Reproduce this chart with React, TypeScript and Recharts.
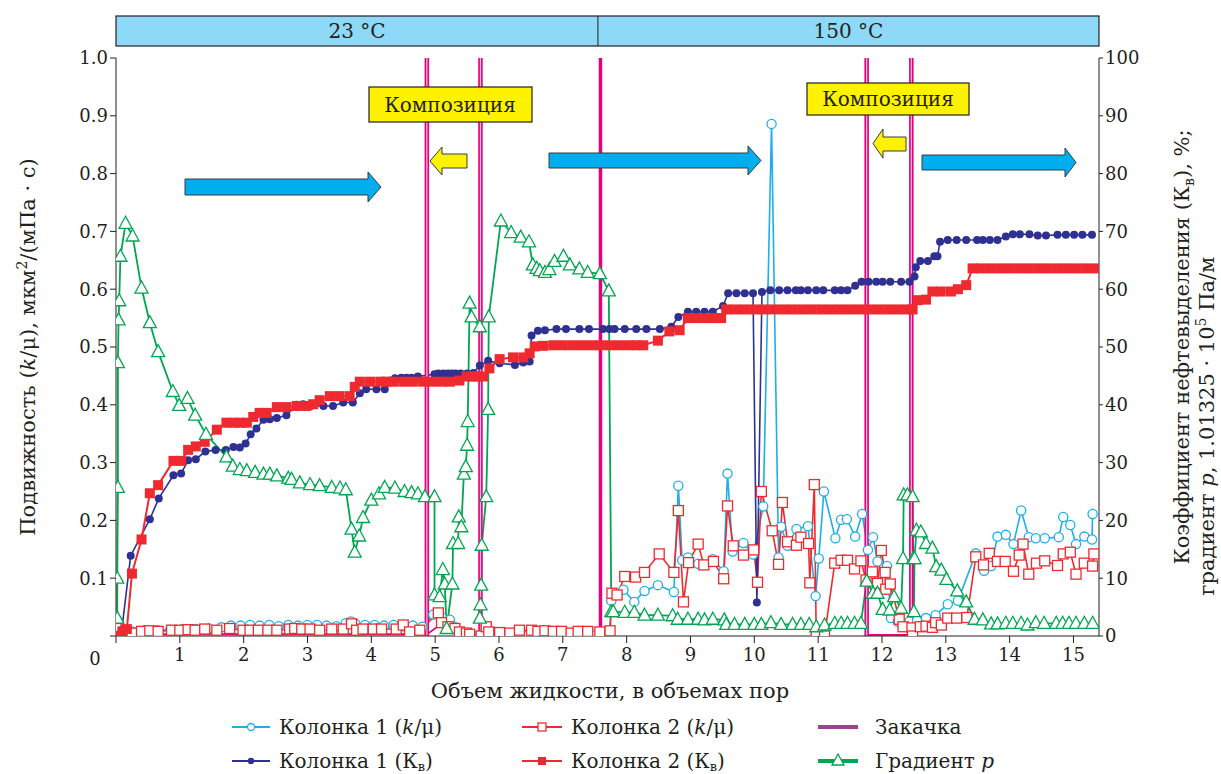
import React from "react";
import { LineChart, Line, XAxis, YAxis, ReferenceLine } from "recharts";

// Колонка 1 (k/μ), left axis
const mob1: [number, number][] = [
  [0.05, 0.01], [0.25, 0.008], [0.45, 0.01], [0.65, 0.01], [0.85, 0.011], [1.05, 0.012], [1.25, 0.012],
  [1.45, 0.013], [1.65, 0.015], [1.8, 0.018], [1.95, 0.018], [2.1, 0.019], [2.25, 0.018], [2.4, 0.019],
  [2.55, 0.017], [2.7, 0.019], [2.85, 0.018], [3.0, 0.019], [3.15, 0.019], [3.3, 0.018], [3.45, 0.017],
  [3.6, 0.022], [3.68, 0.025], [3.75, 0.021], [3.9, 0.019], [4.05, 0.019], [4.2, 0.018], [4.35, 0.019],
  [4.5, 0.017], [4.65, 0.018], [4.8, 0.016], [4.97, 0.037], [5.1, 0.033], [5.23, 0.028], [5.3, 0.016],
  [5.42, 0.006], [5.55, 0.001], [5.7, 0.001], [5.85, 0.001], [6.0, 0.0], [6.15, 0.001], [6.3, 0.001],
  [6.45, 0.001], [6.6, 0.0], [6.75, 0.001], [6.9, 0.001], [7.05, 0.0], [7.2, 0.001], [7.35, 0.001],
  [7.5, 0.001], [7.65, 0.001], [7.73, 0.0], [7.76, 0.061], [7.95, 0.08], [8.12, 0.059], [8.28, 0.078],
  [8.49, 0.088], [8.74, 0.076], [8.81, 0.26], [8.87, 0.131], [8.96, 0.136], [9.12, 0.125], [9.35, 0.133],
  [9.52, 0.112], [9.58, 0.281], [9.66, 0.146], [9.83, 0.161], [9.98, 0.141], [10.14, 0.224], [10.27, 0.886],
  [10.38, 0.136], [10.42, 0.189], [10.52, 0.156], [10.66, 0.185], [10.84, 0.19], [10.96, 0.069],
  [11.01, 0.134], [11.09, 0.25], [11.27, 0.169], [11.36, 0.201], [11.45, 0.202], [11.58, 0.172],
  [11.69, 0.211], [11.78, 0.149], [11.86, 0.171], [11.93, 0.129], [12.08, 0.121], [12.14, 0.031],
  [12.25, 0.025], [12.35, 0.02], [12.43, 0.025], [12.55, 0.027], [12.69, 0.031], [12.84, 0.036],
  [13.03, 0.055], [13.19, 0.061], [13.47, 0.143], [13.6, 0.113], [13.71, 0.121], [13.81, 0.172],
  [13.94, 0.175], [14.06, 0.159], [14.18, 0.217], [14.3, 0.171], [14.41, 0.169], [14.55, 0.169],
  [14.77, 0.171], [14.84, 0.206], [14.95, 0.192], [15.04, 0.159], [15.17, 0.172], [15.29, 0.167],
  [15.3, 0.211],
];

// Колонка 2 (k/μ), left axis
const mob2: [number, number][] = [
  [0.0, 0.013], [0.25, 0.005], [0.4, 0.008], [0.53, 0.009], [0.66, 0.008], [0.87, 0.01], [1.0, 0.01],
  [1.13, 0.011], [1.24, 0.01], [1.39, 0.012], [1.58, 0.01], [1.78, 0.013], [1.99, 0.01], [2.1, 0.01],
  [2.23, 0.01], [2.38, 0.01], [2.52, 0.01], [2.72, 0.012], [2.8, 0.013], [2.91, 0.012], [3.04, 0.012],
  [3.19, 0.01], [3.38, 0.012], [3.56, 0.012], [3.69, 0.021], [3.77, 0.01], [3.87, 0.012], [4.03, 0.012],
  [4.16, 0.012], [4.39, 0.012], [4.5, 0.019], [4.6, 0.007], [4.76, 0.01], [5.05, 0.04], [5.1, 0.023],
  [5.2, 0.016], [5.31, 0.013], [5.38, 0.007], [5.49, 0.005], [5.54, 0.003], [5.72, 0.0], [5.8, 0.016],
  [5.84, 0.007], [6.01, 0.006], [6.17, 0.005], [6.32, 0.01], [6.51, 0.01], [6.61, 0.008], [6.72, 0.009],
  [6.85, 0.008], [6.98, 0.008], [7.13, 0.005], [7.24, 0.008], [7.39, 0.008], [7.58, 0.007], [7.74, 0.009],
  [7.77, 0.074], [7.85, 0.071], [7.97, 0.103], [8.14, 0.102], [8.28, 0.11], [8.51, 0.142], [8.74, 0.11],
  [8.81, 0.217], [8.89, 0.059], [8.97, 0.127], [9.12, 0.159], [9.21, 0.123], [9.36, 0.129], [9.52, 0.099],
  [9.58, 0.225], [9.67, 0.156], [9.83, 0.14], [9.99, 0.149], [10.05, 0.093], [10.11, 0.25], [10.28, 0.182],
  [10.38, 0.124], [10.44, 0.231], [10.52, 0.163], [10.66, 0.157], [10.73, 0.171], [10.85, 0.16],
  [10.87, 0.092], [10.94, 0.262], [10.97, 0.0], [11.1, 0.0], [11.26, 0.126], [11.36, 0.131], [11.46, 0.131],
  [11.57, 0.116], [11.67, 0.13], [11.75, 0.097], [11.85, 0.111], [11.93, 0.091], [11.99, 0.148],
  [12.05, 0.11], [12.06, 0.081], [12.13, 0.09], [12.27, 0.029], [12.33, 0.016], [12.47, 0.014],
  [12.48, 0.0], [12.6, 0.016], [12.69, 0.017], [12.79, 0.015], [12.84, 0.023], [12.93, 0.019],
  [13.03, 0.031], [13.17, 0.031], [13.33, 0.032], [13.47, 0.137], [13.59, 0.123], [13.68, 0.143],
  [13.81, 0.129], [13.93, 0.129], [14.06, 0.112], [14.15, 0.14], [14.21, 0.159], [14.3, 0.107],
  [14.42, 0.126], [14.55, 0.13], [14.75, 0.122], [14.84, 0.142], [14.95, 0.145], [15.04, 0.107],
  [15.17, 0.126], [15.3, 0.121], [15.32, 0.142],
];

// Колонка 1 (Кв), %, right axis
const kv1: [number, number][] = [
  [0.0, 0], [0.09, 1.0], [0.23, 13.9], [0.53, 20.2], [0.67, 23.8], [0.9, 27.8], [1.02, 28.1], [1.13, 30.4],
  [1.25, 30.6], [1.4, 31.9], [1.56, 32.2], [1.72, 32.2], [1.84, 32.7], [1.94, 32.6], [2.03, 33.3],
  [2.11, 34.9], [2.2, 35.9], [2.31, 37.4], [2.41, 37.5], [2.52, 37.7], [2.67, 38.2], [2.83, 40.0],
  [2.93, 40.1], [3.05, 39.8], [3.25, 39.8], [3.4, 39.8], [3.56, 40.4], [3.71, 40.4], [3.82, 42.0],
  [3.92, 42.7], [4.08, 42.7], [4.21, 42.7], [4.37, 44.6], [4.47, 44.7], [4.55, 44.7], [4.63, 44.7],
  [4.73, 44.9], [4.99, 45.3], [5.05, 45.4], [5.13, 45.4], [5.2, 45.4], [5.26, 45.4], [5.32, 45.4],
  [5.4, 45.4], [5.5, 45.4], [5.6, 45.5], [5.7, 46.8], [5.83, 47.6], [6.01, 47.2], [6.25, 46.9],
  [6.38, 47.3], [6.48, 47.5], [6.51, 52.0], [6.61, 52.8], [6.72, 52.9], [6.9, 53.1], [7.05, 53.1],
  [7.26, 53.1], [7.41, 53.1], [7.63, 53.1], [7.73, 53.1], [7.81, 53.1], [7.97, 53.1], [8.15, 53.1],
  [8.31, 53.1], [8.52, 53.1], [8.7, 53.5], [8.81, 55.2], [8.96, 56.1], [9.09, 56.1], [9.22, 56.1],
  [9.35, 56.1], [9.51, 57.1], [9.59, 59.3], [9.72, 59.3], [9.85, 59.3], [9.98, 59.3], [10.04, 5.8],
  [10.12, 59.5], [10.25, 59.8], [10.39, 59.8], [10.52, 59.8], [10.65, 59.8], [10.73, 59.8], [10.84, 59.8],
  [10.97, 59.8], [11.08, 59.8], [11.26, 59.8], [11.36, 59.8], [11.46, 59.8], [11.58, 60.6], [11.68, 61.3],
  [11.79, 61.3], [11.91, 61.3], [12.01, 61.3], [12.13, 61.3], [12.3, 61.3], [12.43, 61.3], [12.51, 62.2],
  [12.53, 63.8], [12.6, 64.9], [12.72, 64.9], [12.82, 65.7], [12.87, 65.7], [12.91, 68.2], [13.03, 68.5],
  [13.17, 68.5], [13.32, 68.5], [13.49, 68.5], [13.58, 68.5], [13.69, 68.5], [13.81, 68.5], [13.94, 69.1],
  [14.05, 69.5], [14.16, 69.5], [14.31, 69.5], [14.44, 69.3], [14.57, 69.3], [14.75, 69.4], [14.88, 69.4],
  [15.01, 69.4], [15.14, 69.4], [15.29, 69.4],
];

// Колонка 2 (Кв), %, right axis
const kv2: [number, number][] = [
  [0.0, 0], [0.1, 0.8], [0.17, 1.2], [0.25, 10.8], [0.4, 16.7], [0.53, 24.7], [0.66, 26.1], [0.9, 30.3],
  [1.02, 30.3], [1.13, 32.2], [1.25, 32.8], [1.39, 33.6], [1.58, 35.7], [1.73, 36.9], [1.85, 36.9],
  [1.95, 36.9], [2.05, 36.9], [2.15, 37.9], [2.25, 38.6], [2.36, 38.6], [2.52, 39.6], [2.67, 39.6],
  [2.83, 39.8], [2.98, 39.8], [3.09, 40.1], [3.19, 40.8], [3.35, 41.5], [3.5, 41.5], [3.66, 41.5],
  [3.74, 43.1], [3.82, 44.0], [3.98, 44.0], [4.14, 44.0], [4.24, 44.0], [4.34, 44.0], [4.5, 44.0],
  [4.65, 44.0], [4.81, 44.0], [4.95, 44.0], [5.1, 44.0], [5.23, 44.0], [5.38, 44.2], [5.49, 44.9],
  [5.59, 44.9], [5.65, 44.9], [5.75, 44.9], [5.85, 46.3], [6.01, 47.9], [6.22, 48.2], [6.38, 48.2],
  [6.48, 48.9], [6.56, 50.1], [6.69, 50.2], [6.85, 50.3], [7.0, 50.3], [7.15, 50.3], [7.3, 50.3],
  [7.45, 50.3], [7.58, 50.3], [7.73, 50.3], [7.88, 50.3], [8.03, 50.3], [8.15, 50.3], [8.26, 50.3],
  [8.49, 51.1], [8.67, 52.7], [8.83, 52.9], [8.96, 55.0], [9.1, 55.0], [9.25, 55.0], [9.38, 55.0],
  [9.48, 55.0], [9.56, 56.5], [9.7, 56.5], [9.85, 56.5], [10.0, 56.5], [10.15, 56.5], [10.3, 56.5],
  [10.45, 56.5], [10.6, 56.5], [10.75, 56.5], [10.9, 56.5], [11.05, 56.5], [11.2, 56.5], [11.35, 56.5],
  [11.5, 56.5], [11.65, 56.5], [11.8, 56.5], [11.95, 56.5], [12.1, 56.5], [12.25, 56.5], [12.4, 56.5],
  [12.48, 56.5], [12.56, 58.1], [12.69, 58.2], [12.79, 59.6], [12.92, 59.6], [13.08, 59.6], [13.19, 60.0],
  [13.32, 60.7], [13.42, 63.6], [13.55, 63.6], [13.7, 63.6], [13.85, 63.6], [14.0, 63.6], [14.15, 63.6],
  [14.3, 63.6], [14.45, 63.6], [14.6, 63.6], [14.75, 63.6], [14.9, 63.6], [15.05, 63.6], [15.2, 63.6],
  [15.35, 63.6],
];

// Градиент p, right axis (1.01325·10^5 Па/м)
const grad: [number, number][] = [
  [0.02, 3.1], [0.02, 10.0], [0.03, 25.7], [0.03, 47.3], [0.04, 54.7], [0.05, 58.0], [0.07, 65.7],
  [0.15, 71.4], [0.26, 69.2], [0.4, 60.2], [0.53, 54.2], [0.66, 49.2], [0.89, 42.3], [0.99, 39.9],
  [1.12, 41.1], [1.24, 38.2], [1.41, 34.9], [1.73, 31.0], [1.83, 29.4], [1.94, 28.8], [2.05, 28.6],
  [2.18, 28.3], [2.31, 28.0], [2.41, 28.0], [2.52, 27.7], [2.7, 27.3], [2.75, 27.1], [2.88, 26.5],
  [3.04, 26.2], [3.19, 26.0], [3.38, 25.7], [3.51, 25.6], [3.6, 25.3], [3.69, 18.5], [3.74, 14.5],
  [3.81, 17.3], [3.87, 20.5], [4.0, 23.5], [4.12, 24.6], [4.21, 25.7], [4.37, 25.6], [4.52, 25.0],
  [4.63, 24.8], [4.73, 24.6], [4.84, 24.1], [4.99, 24.1], [4.99, 7.1], [5.07, 6.8], [5.12, 11.5],
  [5.15, 9.0], [5.18, 1.3], [5.27, 9.0], [5.28, 16.0], [5.36, 16.0], [5.37, 20.6], [5.41, 18.9],
  [5.45, 28.0], [5.48, 29.3], [5.5, 33.0], [5.51, 37.1], [5.54, 57.6], [5.57, 55.2], [5.7, 53.5],
  [5.7, 3.1], [5.71, 5.4], [5.72, 8.8], [5.73, 15.7], [5.8, 24.1], [5.83, 39.2], [5.84, 55.2],
  [6.03, 71.8], [6.19, 69.8], [6.34, 69.0], [6.47, 68.2], [6.53, 64.2], [6.59, 63.6], [6.64, 63.2],
  [6.72, 62.9], [6.79, 63.4], [6.87, 64.8], [7.01, 65.7], [7.11, 64.2], [7.26, 63.5], [7.39, 62.9],
  [7.58, 62.7], [7.72, 59.7], [7.76, 4.2], [7.79, 4.2], [7.97, 4.1], [8.12, 4.1], [8.28, 3.6],
  [8.49, 3.6], [8.72, 3.5], [8.8, 2.9], [8.96, 2.9], [9.12, 2.9], [9.22, 2.8], [9.35, 2.9], [9.53, 2.8],
  [9.56, 2.0], [9.69, 2.0], [9.85, 2.0], [10.0, 2.0], [10.11, 2.0], [10.26, 2.3], [10.42, 2.0],
  [10.6, 2.0], [10.73, 2.0], [10.86, 2.0], [10.97, 1.6], [11.1, 1.9], [11.26, 2.2], [11.36, 2.2],
  [11.46, 2.2], [11.57, 2.2], [11.67, 2.2], [11.76, 9.5], [11.86, 7.4], [11.93, 7.4], [12.01, 4.6],
  [12.12, 4.5], [12.19, 6.8], [12.3, 4.8], [12.33, 13.4], [12.34, 24.4], [12.4, 24.4], [12.48, 24.1],
  [12.49, 13.4], [12.5, 4.2], [12.51, 13.4], [12.54, 18.3], [12.61, 18.0], [12.69, 16.0], [12.79, 15.2],
  [12.85, 12.0], [12.93, 11.4], [13.01, 9.8], [13.18, 7.8], [13.32, 5.9], [13.45, 2.9], [13.58, 2.8],
  [13.71, 2.1], [13.81, 2.1], [13.94, 2.2], [14.05, 2.2], [14.18, 2.2], [14.28, 1.9], [14.41, 2.3],
  [14.54, 2.2], [14.73, 2.2], [14.83, 2.2], [14.93, 2.2], [15.04, 2.2], [15.17, 2.2], [15.3, 2.2],
];

// Закачка: baseline pieces (null = gap) and injection moments
const injBase: [number, number | null][] = [
  [0.02, 0.003], [4.86, 0.003], [4.88, null], [4.9, 0.005], [5.07, 0.019], [5.59, 0.001], [5.69, 0.001],
  [5.71, null], [5.73, 0.004], [6.5, 0.003], [7.58, 0.001], [7.6, null], [11.77, 0.002], [12.45, 0.002],
];
const injDouble = [4.87, 5.71, 11.76, 12.46];
const injSolid = [7.59];

const xTicks = [0, 1, 2, 3, 4, 5, 6, 7, 8, 9, 10, 11, 12, 13, 14, 15];
const leftTicks = [0, 0.1, 0.2, 0.3, 0.4, 0.5, 0.6, 0.7, 0.8, 0.9, 1.0];
const rightTicks = [0, 10, 20, 30, 40, 50, 60, 70, 80, 90, 100];

const FONT = "'DejaVu Serif', serif";
const INK = "#231f20";
const C_BLUE = "#1eaee9";
const C_RED = "#ee2a30";
const C_NAVY = "#2e3192";
const C_GREEN = "#00a651";
const C_MAG = "#e5007d";

const rows = (pts: [number, number | null][]) => pts.map(([x, y]) => ({ x, y }));

const openCircle = (p: any) =>
  p.cy == null ? <g key={`c${p.index}`} /> : (
    <circle key={`c${p.index}`} cx={p.cx} cy={p.cy} r={4.6} fill="#fff" stroke={C_BLUE} strokeWidth={1.3} />
  );
const openSquare = (p: any) =>
  p.cy == null ? <g key={`s${p.index}`} /> : (
    <rect key={`s${p.index}`} x={p.cx - 5} y={p.cy - 5} width={10} height={10} fill="#fff" stroke={C_RED} strokeWidth={1.3} />
  );
const navyDot = (p: any) =>
  p.cy == null ? <g key={`n${p.index}`} /> : <circle key={`n${p.index}`} cx={p.cx} cy={p.cy} r={4} fill={C_NAVY} />;
const redSquare = (p: any) =>
  p.cy == null ? <g key={`r${p.index}`} /> : (
    <rect key={`r${p.index}`} x={p.cx - 5} y={p.cy - 5} width={10} height={10} fill={C_RED} />
  );
const triangle = (p: any) =>
  p.cy == null ? <g key={`t${p.index}`} /> : (
    <path
      key={`t${p.index}`}
      d={`M${p.cx},${p.cy - 7} L${p.cx + 6.5},${p.cy + 5} L${p.cx - 6.5},${p.cy + 5} Z`}
      fill="#fff"
      stroke={C_GREEN}
      strokeWidth={1.3}
    />
  );

const XTick = (p: any) => {
  const v = p.payload.value;
  return (
    <text x={v === 0 ? p.x - 21 : p.x} y={v === 0 ? p.y + 20 : p.y + 16} textAnchor="middle" fill={INK} fontSize={18} fontFamily={FONT}>
      {v}
    </text>
  );
};

// plot box in page pixels, used only for the annotations overlay
const PL = 116;
const PR = 1099;
const X_MAX = 15.4;
const px = (x: number) => PL + (x * (PR - PL)) / X_MAX;

function rightArrow(x0: number, xb: number, xt: number, y0: number, y1: number, h0: number, h1: number) {
  const ym = (h0 + h1) / 2;
  return `M${x0},${y0} L${xb},${y0} L${xb},${h0} L${xt},${ym} L${xb},${h1} L${xb},${y1} L${x0},${y1} Z`;
}
function leftArrow(xt: number, xb: number, x1: number, y0: number, y1: number, h0: number, h1: number) {
  const ym = (h0 + h1) / 2;
  return `M${x1},${y0} L${xb},${y0} L${xb},${h0} L${xt},${ym} L${xb},${h1} L${xb},${y1} L${x1},${y1} Z`;
}

function Annotations() {
  const t = { fontFamily: FONT, fill: INK } as const;
  const split = px(7.55);
  const r1 = 727;
  const r2 = 761;
  return (
    <svg width={1221} height={774} style={{ position: "absolute", left: 0, top: 0, pointerEvents: "none" }}>
      {/* temperature header */}
      <rect x={PL} y={16} width={PR - PL} height={30} fill="#8ed8f8" stroke={INK} strokeWidth={1.2} />
      <line x1={split} y1={16} x2={split} y2={46} stroke={INK} strokeWidth={1} />
      <text x={(PL + split) / 2} y={38} textAnchor="middle" fontSize={20} {...t}>23 °C</text>
      <text x={(split + PR) / 2} y={38} textAnchor="middle" fontSize={20} {...t}>150 °C</text>

      {/* flow direction arrows */}
      <path d={rightArrow(185, 368, 381, 179, 195, 172, 202)} fill="#00aeef" stroke="#3a3a3a" strokeWidth={1} />
      <path d={rightArrow(549, 748, 761, 153, 168, 146, 175)} fill="#00aeef" stroke="#3a3a3a" strokeWidth={1} />
      <path d={rightArrow(922, 1065, 1076, 155, 170, 148, 177)} fill="#00aeef" stroke="#3a3a3a" strokeWidth={1} />
      <path d={leftArrow(430, 442, 467, 154, 168, 147, 175)} fill="#fff200" stroke="#3a3a3a" strokeWidth={1} />
      <path d={leftArrow(873, 883, 906, 137, 151, 129, 158)} fill="#fff200" stroke="#3a3a3a" strokeWidth={1} />

      {/* composition boxes */}
      <rect x={369} y={87} width={163} height={35} fill="#fff200" stroke={INK} strokeWidth={1.2} />
      <text x={450} y={112} textAnchor="middle" fontSize={20} {...t}>Композиция</text>
      <rect x={807} y={83} width={162} height={32} fill="#fff200" stroke={INK} strokeWidth={1.2} />
      <text x={888} y={106} textAnchor="middle" fontSize={20} {...t}>Композиция</text>

      {/* axis titles */}
      <text x={610} y={698} textAnchor="middle" fontSize={21} {...t}>Объем жидкости, в объемах пор</text>
      <text transform="translate(35,347) rotate(-90)" textAnchor="middle" fontSize={21} {...t}>
        Подвижность (<tspan fontStyle="italic">k</tspan>/μ), мкм<tspan dy={-8} fontSize={14}>2</tspan>
        <tspan dy={8}>/(мПа · с)</tspan>
      </text>
      <text transform="translate(1189,347) rotate(-90)" textAnchor="middle" fontSize={21} {...t}>
        Коэффициент нефтевыделения (К<tspan dy={5} fontSize={14}>в</tspan><tspan dy={-5}>), %;</tspan>
      </text>
      <text transform="translate(1214,426) rotate(-90)" textAnchor="middle" fontSize={21} {...t}>
        градиент <tspan fontStyle="italic">p</tspan>, 1.01325 · 10<tspan dy={-8} fontSize={14}>5</tspan>
        <tspan dy={8}> Па/м</tspan>
      </text>

      {/* legend */}
      <g>
        <line x1={232} y1={r1} x2={270} y2={r1} stroke={C_BLUE} strokeWidth={2} />
        <circle cx={251} cy={r1} r={3.5} fill="#fff" stroke={C_BLUE} strokeWidth={1.3} />
        <text x={279} y={r1 + 7} fontSize={20} {...t}>Колонка 1 (<tspan fontStyle="italic">k</tspan>/μ)</text>

        <line x1={522} y1={r1} x2={562} y2={r1} stroke={C_RED} strokeWidth={2} />
        <rect x={538} y={r1 - 4} width={8} height={8} fill="#fff" stroke={C_RED} strokeWidth={1.3} />
        <text x={571} y={r1 + 7} fontSize={20} {...t}>Колонка 2 (<tspan fontStyle="italic">k</tspan>/μ)</text>

        <line x1={818} y1={r1} x2={858} y2={r1} stroke="#a0438f" strokeWidth={4} />
        <text x={875} y={r1 + 7} fontSize={20} {...t}>Закачка</text>

        <line x1={232} y1={r2} x2={270} y2={r2} stroke={C_NAVY} strokeWidth={2} />
        <circle cx={251} cy={r2} r={3.2} fill={C_NAVY} />
        <text x={279} y={r2 + 7} fontSize={20} {...t}>Колонка 1 (К<tspan dy={3} fontSize={13}>в</tspan><tspan dy={-3}>)</tspan></text>

        <line x1={522} y1={r2} x2={562} y2={r2} stroke={C_RED} strokeWidth={2} />
        <rect x={538} y={r2 - 4} width={8} height={8} fill={C_RED} />
        <text x={571} y={r2 + 7} fontSize={20} {...t}>Колонка 2 (К<tspan dy={3} fontSize={13}>в</tspan><tspan dy={-3}>)</tspan></text>

        <line x1={818} y1={r2} x2={858} y2={r2} stroke={C_GREEN} strokeWidth={4} />
        <path d={`M838,${r2 - 7} L844,${r2 + 4} L832,${r2 + 4} Z`} fill="#fff" stroke={C_GREEN} strokeWidth={1.3} />
        <text x={875} y={r2 + 7} fontSize={20} {...t}>Градиент <tspan fontStyle="italic">p</tspan></text>
      </g>
    </svg>
  );
}

export default function App() {
  const tickStyle = { fill: INK, fontSize: 18, fontFamily: FONT };
  return (
    <div style={{ position: "absolute", left: 0, top: 0, width: 1221, height: 774, background: "#fff" }}>
      <LineChart width={1221} height={774} margin={{ top: 58, right: 62, left: 56, bottom: 98 }}>
        <XAxis
          type="number"
          dataKey="x"
          domain={[0, X_MAX]}
          ticks={xTicks}
          allowDataOverflow
          height={40}
          tickSize={7}
          stroke={INK}
          tick={<XTick />}
        />
        <YAxis
          yAxisId="left"
          domain={[0, 1]}
          ticks={leftTicks}
          allowDataOverflow
          width={60}
          tickSize={6}
          stroke={INK}
          tick={tickStyle}
          tickFormatter={(v: number) => (v === 0 ? "" : v.toFixed(1))}
        />
        <YAxis
          yAxisId="right"
          orientation="right"
          domain={[0, 100]}
          ticks={rightTicks}
          allowDataOverflow
          width={60}
          tickSize={4}
          stroke={INK}
          tick={tickStyle}
        />

        <Line yAxisId="left" data={rows(mob1)} dataKey="y" stroke={C_BLUE} strokeWidth={1.6} dot={openCircle} isAnimationActive={false} />
        <Line yAxisId="left" data={rows(mob2)} dataKey="y" stroke={C_RED} strokeWidth={1.6} dot={openSquare} isAnimationActive={false} />
        <Line yAxisId="right" data={rows(kv1)} dataKey="y" stroke={C_NAVY} strokeWidth={1.6} dot={navyDot} isAnimationActive={false} />
        <Line yAxisId="right" data={rows(kv2)} dataKey="y" stroke={C_RED} strokeWidth={2} dot={redSquare} isAnimationActive={false} />
        <Line yAxisId="right" data={rows(grad)} dataKey="y" stroke={C_GREEN} strokeWidth={1.8} dot={triangle} isAnimationActive={false} />
        <Line yAxisId="left" data={rows(injBase)} dataKey="y" stroke={C_MAG} strokeWidth={1.8} dot={false} connectNulls={false} isAnimationActive={false} />

        {injDouble.map((x) => (
          <ReferenceLine key={`a${x}`} yAxisId="left" x={x} stroke={C_MAG} strokeWidth={4.5} />
        ))}
        {injDouble.map((x) => (
          <ReferenceLine key={`b${x}`} yAxisId="left" x={x} stroke="#f9c0dc" strokeWidth={1.2} />
        ))}
        {injSolid.map((x) => (
          <ReferenceLine key={`s${x}`} yAxisId="left" x={x} stroke={C_MAG} strokeWidth={3.5} />
        ))}
      </LineChart>
      <Annotations />
    </div>
  );
}
